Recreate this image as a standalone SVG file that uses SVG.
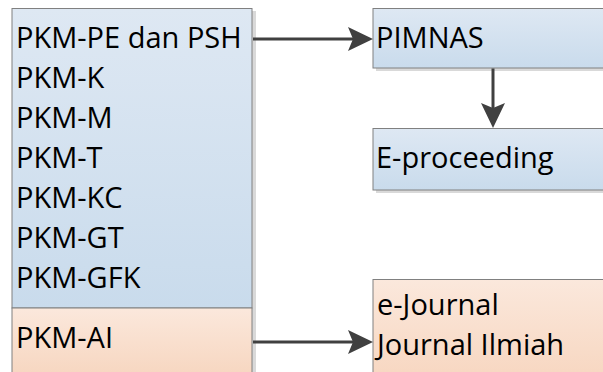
<svg xmlns="http://www.w3.org/2000/svg" width="603" height="372" viewBox="0 0 603 372">
<style>
.box{stroke:#808080;stroke-width:1}
.blue{fill:url(#gBlue)}
.orange{fill:url(#gOrange)}
.shadow{fill:#d9d9d9}
.t{font-family:"Open Sans","Liberation Sans",sans-serif;font-size:29px;fill:#000}
.conn{stroke:#404040;stroke-width:3;fill:none;marker-end:url(#arr)}
</style>
<defs>
<linearGradient id="gBlue" x1="0" y1="0" x2="0" y2="1">
<stop offset="0" stop-color="#dee8f3"/>
<stop offset="1" stop-color="#c9dbec"/>
</linearGradient>
<linearGradient id="gOrange" x1="0" y1="0" x2="0" y2="1">
<stop offset="0" stop-color="#fbe8dc"/>
<stop offset="1" stop-color="#f6d3bb"/>
</linearGradient>
<marker id="arr" markerUnits="userSpaceOnUse" markerWidth="25" markerHeight="24" viewBox="0 0 25 24" refX="14" refY="12" orient="auto">
<path d="M0,0 L25,12 L0,24 L5,12 Z" fill="#404040"/>
</marker>
</defs>
<g id="node-pkm-list">
<rect class="shadow" x="15" y="11" width="241" height="300"/>
<rect class="box blue" x="12" y="8.5" width="240" height="299.5"/>
<text class="t" x="16" y="48">PKM-PE dan PSH</text>
<text class="t" x="16" y="88">PKM-K</text>
<text class="t" x="16" y="128">PKM-M</text>
<text class="t" x="16" y="168">PKM-T</text>
<text class="t" x="16" y="208">PKM-KC</text>
<text class="t" x="16" y="248">PKM-GT</text>
<text class="t" x="16" y="288">PKM-GFK</text>
</g>
<g id="node-pkm-ai">
<rect class="shadow" x="15" y="311" width="241" height="80"/>
<rect class="box orange" x="12" y="308" width="240" height="80"/>
<text class="t" x="16" y="348">PKM-AI</text>
</g>
<g id="node-pimnas">
<rect class="shadow" x="376" y="11" width="250" height="60"/>
<rect class="box blue" x="373" y="8.5" width="250" height="59.5"/>
<text class="t" x="376" y="48">PIMNAS</text>
</g>
<g id="node-eproceeding">
<rect class="shadow" x="376" y="131" width="250" height="62"/>
<rect class="box blue" x="373" y="128.5" width="250" height="61.5"/>
<text class="t" x="376" y="168">E-proceeding</text>
</g>
<g id="node-journal">
<rect class="shadow" x="376" y="282" width="250" height="120"/>
<rect class="box orange" x="373" y="279.5" width="250" height="120"/>
<text class="t" x="377" y="315">e-Journal</text>
<text class="t" x="377" y="355">Journal Ilmiah</text>
</g>
<g id="connectors">
<path class="conn" d="M253,39 H362"/>
<path class="conn" d="M493,68.5 V117"/>
<path class="conn" d="M253,342 H362"/>
</g>
</svg>
